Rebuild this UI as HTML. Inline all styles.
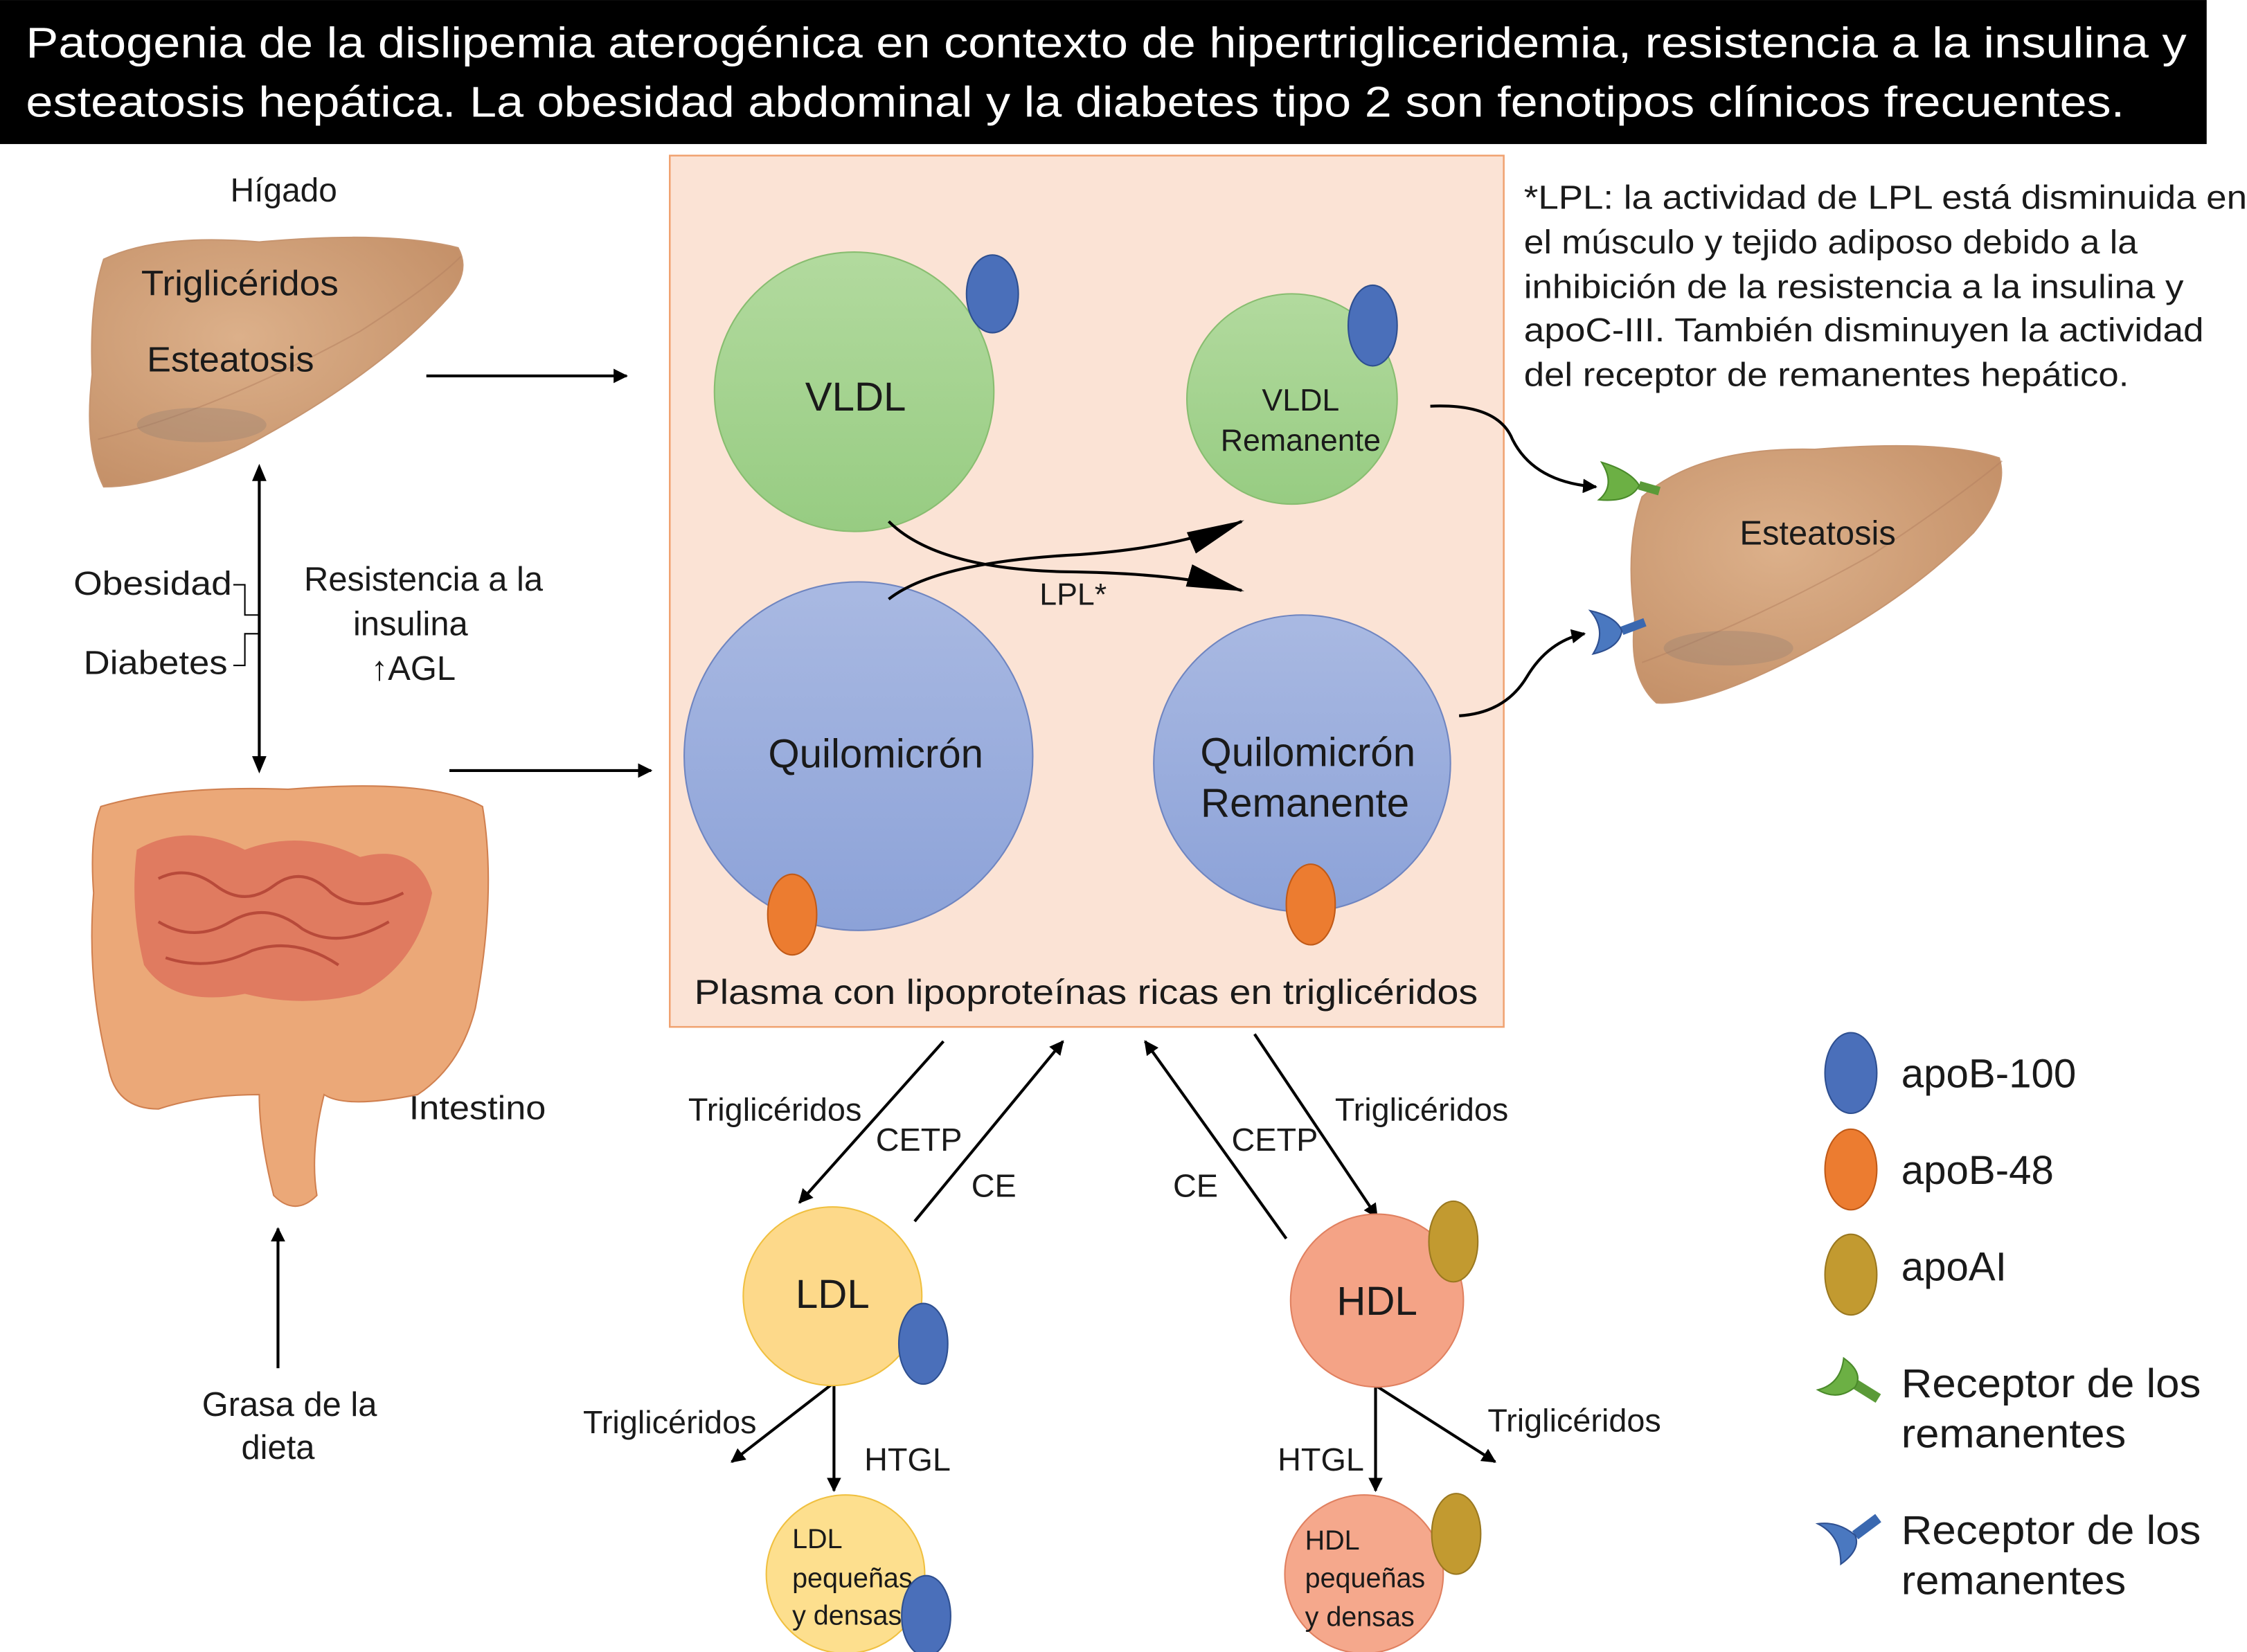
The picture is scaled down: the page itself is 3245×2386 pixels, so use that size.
<!DOCTYPE html>
<html><head><meta charset="utf-8"><style>
html,body{margin:0;padding:0;background:#fff}
svg{display:block}
text{font-family:"Liberation Sans",sans-serif;fill:#1a1a1a}
</style></head><body>
<svg width="3245" height="2386" viewBox="0 0 1560 1147" xmlns="http://www.w3.org/2000/svg">
<defs>
<marker id="a" markerWidth="10" markerHeight="10" refX="9" refY="5" orient="auto" markerUnits="userSpaceOnUse"><path d="M0,0 L10,5 L0,10 z" fill="#000"/></marker>
<marker id="big" markerWidth="40" markerHeight="20" refX="38" refY="10" orient="auto" markerUnits="userSpaceOnUse"><path d="M0,2 L40,10 L0,18 z" fill="#000"/></marker>
<radialGradient id="lv" cx="0.4" cy="0.4" r="0.7"><stop offset="0" stop-color="#dcb08a"/><stop offset="1" stop-color="#c49068"/></radialGradient>
<linearGradient id="gv" x1="0" y1="0" x2="0" y2="1"><stop offset="0" stop-color="#b2da9e"/><stop offset="1" stop-color="#97cc82"/></linearGradient>
<linearGradient id="bq" x1="0" y1="0" x2="0" y2="1"><stop offset="0" stop-color="#a9b9e2"/><stop offset="1" stop-color="#8ca2d8"/></linearGradient>
</defs>

<rect x="0" y="0" width="1532" height="100" fill="#000"/>
<text x="18" y="40" font-size="30" textLength="1500" lengthAdjust="spacingAndGlyphs" style="fill:#fff">Patogenia de la dislipemia aterogénica en contexto de hipertrigliceridemia, resistencia a la insulina y</text>
<text x="18" y="81" font-size="30" textLength="1457" lengthAdjust="spacingAndGlyphs" style="fill:#fff">esteatosis hepática. La obesidad abdominal y la diabetes tipo 2 son fenotipos clínicos frecuentes.</text>

<!-- liver left -->
<text x="197" y="140" font-size="23" text-anchor="middle">Hígado</text>
<path d="M72,180 Q110,162 180,168 Q270,160 318,172 Q328,190 308,210 Q260,262 170,310 Q110,338 72,338 Q58,310 64,260 Q62,210 72,180 z" fill="url(#lv)" stroke="#c79570"/>
<path d="M68,305 Q150,285 250,230 Q300,198 320,178" fill="none" stroke="#b48060" opacity="0.5"/>
<ellipse cx="140" cy="295" rx="45" ry="12" fill="#8a7c70" opacity="0.3"/>
<text x="98" y="205" font-size="24.5" textLength="137" lengthAdjust="spacingAndGlyphs">Triglicéridos</text>
<text x="102" y="258" font-size="24.5" textLength="116" lengthAdjust="spacingAndGlyphs">Esteatosis</text>
<line x1="296" y1="261" x2="435" y2="261" stroke="#000" stroke-width="2" marker-end="url(#a)"/>

<line x1="180" y1="333" x2="180" y2="526" stroke="#000" stroke-width="2"/>
<path d="M180,322 L175,334 L185,334 z M180,537 L175,525 L185,525 z" fill="#000"/>
<path d="M162,406 H170 V427 H180 M180,440 H170 V462 H162" fill="none" stroke="#000" stroke-width="1"/>
<text x="51" y="413" font-size="23" textLength="110" lengthAdjust="spacingAndGlyphs">Obesidad</text>
<text x="58" y="468" font-size="23" textLength="100" lengthAdjust="spacingAndGlyphs">Diabetes</text>
<text x="294" y="410" font-size="23.5" text-anchor="middle">Resistencia a la</text>
<text x="285" y="441" font-size="23.5" text-anchor="middle">insulina</text>
<text x="287" y="472" font-size="23.5" text-anchor="middle">↑AGL</text>

<!-- intestine -->
<path d="M70,560 Q120,545 200,548 Q300,540 335,560 Q345,620 330,700 Q320,740 290,760 Q240,770 225,760 Q215,800 220,830 Q205,845 190,830 Q180,790 180,760 Q140,760 110,770 Q80,770 75,740 Q60,680 65,620 Q62,580 70,560 z" fill="#eba878" stroke="#d08050"/>
<path d="M95,590 Q130,570 170,590 Q210,575 250,595 Q290,585 300,620 Q290,670 250,690 Q210,700 170,690 Q120,700 100,670 Q90,630 95,590 z" fill="#dd6f5a" opacity="0.8"/>
<path d="M110,610 q20,-10 40,5 q20,15 40,0 q20,-15 40,5 q20,15 50,0 M110,640 q25,15 50,0 q25,-15 50,5 q25,15 60,-5 M115,665 q30,10 60,-5 q30,-10 60,10" fill="none" stroke="#b84a3a" stroke-width="2"/>
<text x="284" y="777" font-size="23" textLength="95" lengthAdjust="spacingAndGlyphs">Intestino</text>
<line x1="312" y1="535" x2="452" y2="535" stroke="#000" stroke-width="2" marker-end="url(#a)"/>
<line x1="193" y1="950" x2="193" y2="853" stroke="#000" stroke-width="2" marker-end="url(#a)"/>
<text x="201" y="983" font-size="23.5" text-anchor="middle">Grasa de la</text>
<text x="193" y="1013" font-size="23.5" text-anchor="middle">dieta</text>

<!-- plasma box -->
<rect x="465" y="108" width="579" height="605" fill="#fbe3d5" stroke="#f0a270" stroke-width="1.2"/>
<circle cx="593" cy="272" r="97" fill="url(#gv)" stroke="#88bd70"/>
<text x="594" y="285" font-size="28" text-anchor="middle">VLDL</text>
<ellipse cx="689" cy="204" rx="18" ry="27" fill="#4a6fba" stroke="#2e4f90"/>
<circle cx="897" cy="277" r="73" fill="url(#gv)" stroke="#88bd70"/>
<text x="903" y="285" font-size="21.5" text-anchor="middle">VLDL</text>
<text x="903" y="313" font-size="21.5" text-anchor="middle">Remanente</text>
<ellipse cx="953" cy="226" rx="17" ry="28" fill="#4a6fba" stroke="#2e4f90"/>
<circle cx="596" cy="525" r="121" fill="url(#bq)" stroke="#6f85c0"/>
<text x="608" y="533" font-size="28" text-anchor="middle">Quilomicrón</text>
<ellipse cx="550" cy="635" rx="17" ry="28" fill="#ec7c30" stroke="#c05a18"/>
<circle cx="904" cy="530" r="103" fill="url(#bq)" stroke="#6f85c0"/>
<text x="908" y="532" font-size="28" text-anchor="middle">Quilomicrón</text>
<text x="906" y="567" font-size="28" text-anchor="middle">Remanente</text>
<ellipse cx="910" cy="628" rx="17" ry="28" fill="#ec7c30" stroke="#c05a18"/>
<path d="M617,362 Q650,395 740,397 Q820,398 862,410" fill="none" stroke="#000" stroke-width="2" marker-end="url(#big)"/>
<path d="M617,416 Q650,390 750,385 Q820,380 862,362" fill="none" stroke="#000" stroke-width="2" marker-end="url(#big)"/>
<text x="745" y="420" font-size="21.5" text-anchor="middle">LPL*</text>
<text x="754" y="697" font-size="24" text-anchor="middle" textLength="544" lengthAdjust="spacingAndGlyphs">Plasma con lipoproteínas ricas en triglicéridos</text>

<!-- note -->
<g font-size="23" >
<text x="1058" y="145" textLength="502" lengthAdjust="spacingAndGlyphs">*LPL: la actividad de LPL está disminuida en</text>
<text x="1058" y="176" textLength="426" lengthAdjust="spacingAndGlyphs">el músculo y tejido adiposo debido a la</text>
<text x="1058" y="207" textLength="458" lengthAdjust="spacingAndGlyphs">inhibición de la resistencia a la insulina y</text>
<text x="1058" y="237" textLength="472" lengthAdjust="spacingAndGlyphs">apoC-III. También disminuyen la actividad</text>
<text x="1058" y="268" textLength="420" lengthAdjust="spacingAndGlyphs">del receptor de remanentes hepático.</text>
</g>

<!-- liver right -->
<path d="M1140,345 Q1180,310 1260,312 Q1350,305 1388,318 Q1395,340 1370,370 Q1320,420 1240,460 Q1180,490 1150,488 Q1130,470 1135,430 Q1128,380 1140,345 z" fill="url(#lv)" stroke="#c79570"/>
<path d="M1140,460 Q1220,430 1300,385 Q1360,345 1390,320" fill="none" stroke="#b48060" opacity="0.5"/>
<ellipse cx="1200" cy="450" rx="45" ry="12" fill="#8a7c70" opacity="0.3"/>
<text x="1262" y="378" font-size="23.5" text-anchor="middle">Esteatosis</text>
<path d="M993,282 Q1040,280 1050,305 Q1065,335 1108,338" fill="none" stroke="#000" stroke-width="2" marker-end="url(#a)"/>
<path d="M1013,497 Q1045,495 1060,470 Q1075,445 1100,440" fill="none" stroke="#000" stroke-width="2" marker-end="url(#a)"/>
<g transform="translate(1130,335)"><path d="M8,2 L22,6" stroke="#5a9a38" stroke-width="6"/><path d="M-18,-14 Q-8,2 -20,12 Q2,14 8,2 Q2,-8 -18,-14 z" fill="#6cb044" stroke="#4a8a2a"/></g>
<g transform="translate(1118,440)"><path d="M8,-2 L24,-8" stroke="#3a68b0" stroke-width="6"/><path d="M-14,-16 Q-2,-2 -12,14 Q6,10 8,-2 Q4,-12 -14,-16 z" fill="#4a78c0" stroke="#2e4f90"/></g>

<!-- lower arrows -->
<g stroke="#000" stroke-width="2" fill="none">
<line x1="655" y1="723" x2="555" y2="835" marker-end="url(#a)"/>
<line x1="635" y1="848" x2="738" y2="723" marker-end="url(#a)"/>
<line x1="893" y1="860" x2="795" y2="723" marker-end="url(#a)"/>
<line x1="871" y1="718" x2="956" y2="845" marker-end="url(#a)"/>
<line x1="579" y1="960" x2="579" y2="1035" marker-end="url(#a)"/>
<line x1="579" y1="960" x2="508" y2="1015" marker-end="url(#a)"/>
<line x1="955" y1="962" x2="955" y2="1035" marker-end="url(#a)"/>
<line x1="955" y1="962" x2="1038" y2="1015" marker-end="url(#a)"/>
</g>
<g font-size="22.5">
<text x="538" y="778" text-anchor="middle">Triglicéridos</text>
<text x="638" y="799" text-anchor="middle">CETP</text>
<text x="690" y="831" text-anchor="middle">CE</text>
<text x="830" y="831" text-anchor="middle">CE</text>
<text x="885" y="799" text-anchor="middle">CETP</text>
<text x="987" y="778" text-anchor="middle">Triglicéridos</text>
<text x="465" y="995" text-anchor="middle">Triglicéridos</text>
<text x="630" y="1021" text-anchor="middle">HTGL</text>
<text x="917" y="1021" text-anchor="middle">HTGL</text>
<text x="1093" y="994" text-anchor="middle">Triglicéridos</text>
</g>

<circle cx="578" cy="900" r="62" fill="#fdd98a" stroke="#f0c040"/>
<text x="578" y="908" font-size="28" text-anchor="middle">LDL</text>
<ellipse cx="641" cy="933" rx="17" ry="28" fill="#4a6fba" stroke="#2e4f90"/>
<circle cx="956" cy="903" r="60" fill="#f4a386" stroke="#e08060"/>
<text x="956" y="913" font-size="28" text-anchor="middle">HDL</text>
<ellipse cx="1009" cy="862" rx="17" ry="28" fill="#c29a30" stroke="#9a7820"/>

<circle cx="587" cy="1093" r="55" fill="#fddf8e" stroke="#f0c040"/>
<text font-size="19"><tspan x="550" y="1075">LDL</tspan><tspan x="550" y="1102">pequeñas</tspan><tspan x="550" y="1128">y densas</tspan></text>
<ellipse cx="643" cy="1122" rx="17" ry="28" fill="#4a6fba" stroke="#2e4f90"/>
<circle cx="947" cy="1093" r="55" fill="#f5a88c" stroke="#e08060"/>
<text font-size="19"><tspan x="906" y="1076">HDL</tspan><tspan x="906" y="1102">pequeñas</tspan><tspan x="906" y="1129">y densas</tspan></text>
<ellipse cx="1011" cy="1065" rx="17" ry="28" fill="#c29a30" stroke="#9a7820"/>

<!-- legend -->
<ellipse cx="1285" cy="745" rx="18" ry="28" fill="#4a6fba" stroke="#2e4f90"/>
<text x="1320" y="755" font-size="28">apoB-100</text>
<ellipse cx="1285" cy="812" rx="18" ry="28" fill="#ec7c30" stroke="#c05a18"/>
<text x="1320" y="822" font-size="28">apoB-48</text>
<ellipse cx="1285" cy="885" rx="18" ry="28" fill="#c29a30" stroke="#9a7820"/>
<text x="1320" y="889" font-size="28">apoAI</text>
<g transform="translate(1282,955)"><path d="M6,6 L22,16" stroke="#5a9a38" stroke-width="7"/><path d="M-20,10 Q-4,6 -2,-12 Q12,-2 6,8 Q-6,18 -20,10 z" fill="#6cb044" stroke="#4a8a2a"/></g>
<text x="1320" y="970" font-size="28" textLength="208" lengthAdjust="spacingAndGlyphs">Receptor de los</text>
<text x="1320" y="1005" font-size="28" textLength="156" lengthAdjust="spacingAndGlyphs">remanentes</text>
<g transform="translate(1282,1068)"><path d="M6,-2 L22,-14" stroke="#3a68b0" stroke-width="7"/><path d="M-20,-10 Q-4,-2 -4,18 Q10,8 6,-2 Q-6,-12 -20,-10 z" fill="#4a78c0" stroke="#2e4f90"/></g>
<text x="1320" y="1072" font-size="28" textLength="208" lengthAdjust="spacingAndGlyphs">Receptor de los</text>
<text x="1320" y="1107" font-size="28" textLength="156" lengthAdjust="spacingAndGlyphs">remanentes</text>
</svg>
</body></html>
